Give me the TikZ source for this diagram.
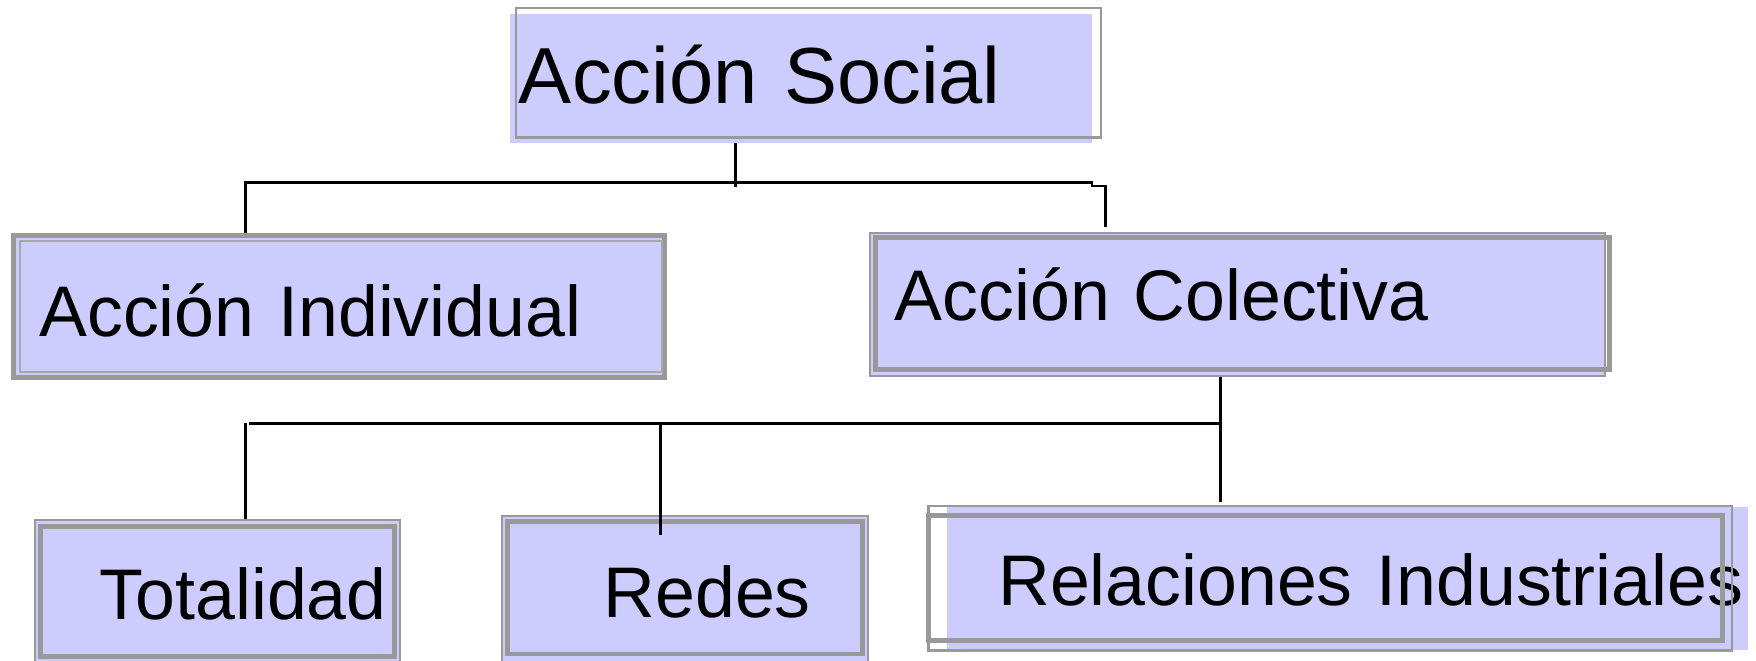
\documentclass[tikz,border=0pt]{standalone}
\usepackage{fontspec}
\setmainfont{Liberation Sans}
\usepackage{tikz}
\usetikzlibrary{positioning}
\definecolor{boxfill}{HTML}{CCCCFF}
\definecolor{boxframe}{HTML}{999999}

\begin{document}
\begin{tikzpicture}[x=0.5pt,y=-0.5pt,
    box/.style={anchor=north west, fill=boxfill, align=left, inner ysep=0pt,
                text depth=0pt, font=\fontsize{32}{38}\selectfont},
    thinframe/.style={draw=boxframe, line width=1pt},
    thickframe/.style={draw=boxframe, line width=2.2pt},
    link/.style={draw=black, line width=1.2pt}]
    \useasboundingbox (0,0) rectangle (1568,590);
    \node [box, minimum width=260pt, minimum height=57.5pt, inner xsep=4pt,
           text width=252pt, text height=22.5pt,
           font=\fontsize{35.5}{42}\selectfont] (social) at (455,12) {Acción Social};
    \draw [thinframe] ([shift={(6,-5)}]social.north west) rectangle ([shift={(7,-5)}]social.south east);
    \node [box, thickframe, minimum width=290.5pt, minimum height=63.5pt, inner xsep=11.5pt,
           text width=267.5pt, text height=26.5pt] (indiv) at (10,208) {Acción Individual};
    \draw [draw=boxframe!85, line width=0.8pt] ([shift={(8,7)}]indiv.north west) rectangle ([shift={(-4,-7)}]indiv.south east);
    \node [box, thinframe, minimum width=328pt, minimum height=64pt, inner xsep=11pt,
           text width=306pt, text height=14pt] (colect) at (776,207) {Acción Colectiva};
    \draw [thickframe] ([shift={(6,5)}]colect.north west) rectangle ([shift={(3,-7)}]colect.south east);
    \node [box, thinframe, minimum width=163pt, minimum height=67pt, inner xsep=29pt,
           text width=105pt, text height=22pt] (total) at (30,463) {\mbox{Totalidad}};
    \draw [thickframe] ([shift={(6,7)}]total.north west) rectangle ([shift={(-6,-13)}]total.south east);
    \node [box, thinframe, minimum width=163.5pt, minimum height=68.5pt, inner xsep=45.5pt,
           text width=72.5pt, text height=21.5pt] (redes) at (447,460) {\mbox{Redes}};
    \draw [thickframe] ([shift={(6,6)}]redes.north west) rectangle ([shift={(-6,-15)}]redes.south east);
    \node [box, minimum width=357.5pt, minimum height=64pt, inner xsep=23pt,
           text width=311.5pt, text height=24pt] (rel) at (845,452) {\mbox{Relaciones Industriales}};
    \draw [thinframe] ([shift={(-16,0)}]rel.north west) rectangle ([shift={(-14,0)}]rel.south east);
    \draw [thickframe] ([shift={(-16,8)}]rel.north west) rectangle ([shift={(-23,-9)}]rel.south east);
    \coordinate (sj) at (657,167);
    \coordinate (bl) at (219,163);
    \coordinate (br) at (975,163);
    \coordinate (cr) at (987,166);
    \draw [link] (sj |- social.south) -- (sj);
    \draw [link] (bl |- indiv.north) -- (bl) -- (br) |- (cr) -- ([yshift=2]cr |- colect.north);
    \coordinate (lb) at (222,378);
    \coordinate (lj) at (1090,378);
    \coordinate (tl) at (219,378);
    \coordinate (rj) at (590,378);
    \draw [link] (colect.south -| lj) -- ([yshift=2]lj |- rel.north);
    \draw [link] (lb) -- (lj);
    \draw [link] (tl) -- (tl |- total.north);
    \draw [link] (rj) -- ++(0,100);
\end{tikzpicture}
\end{document}
